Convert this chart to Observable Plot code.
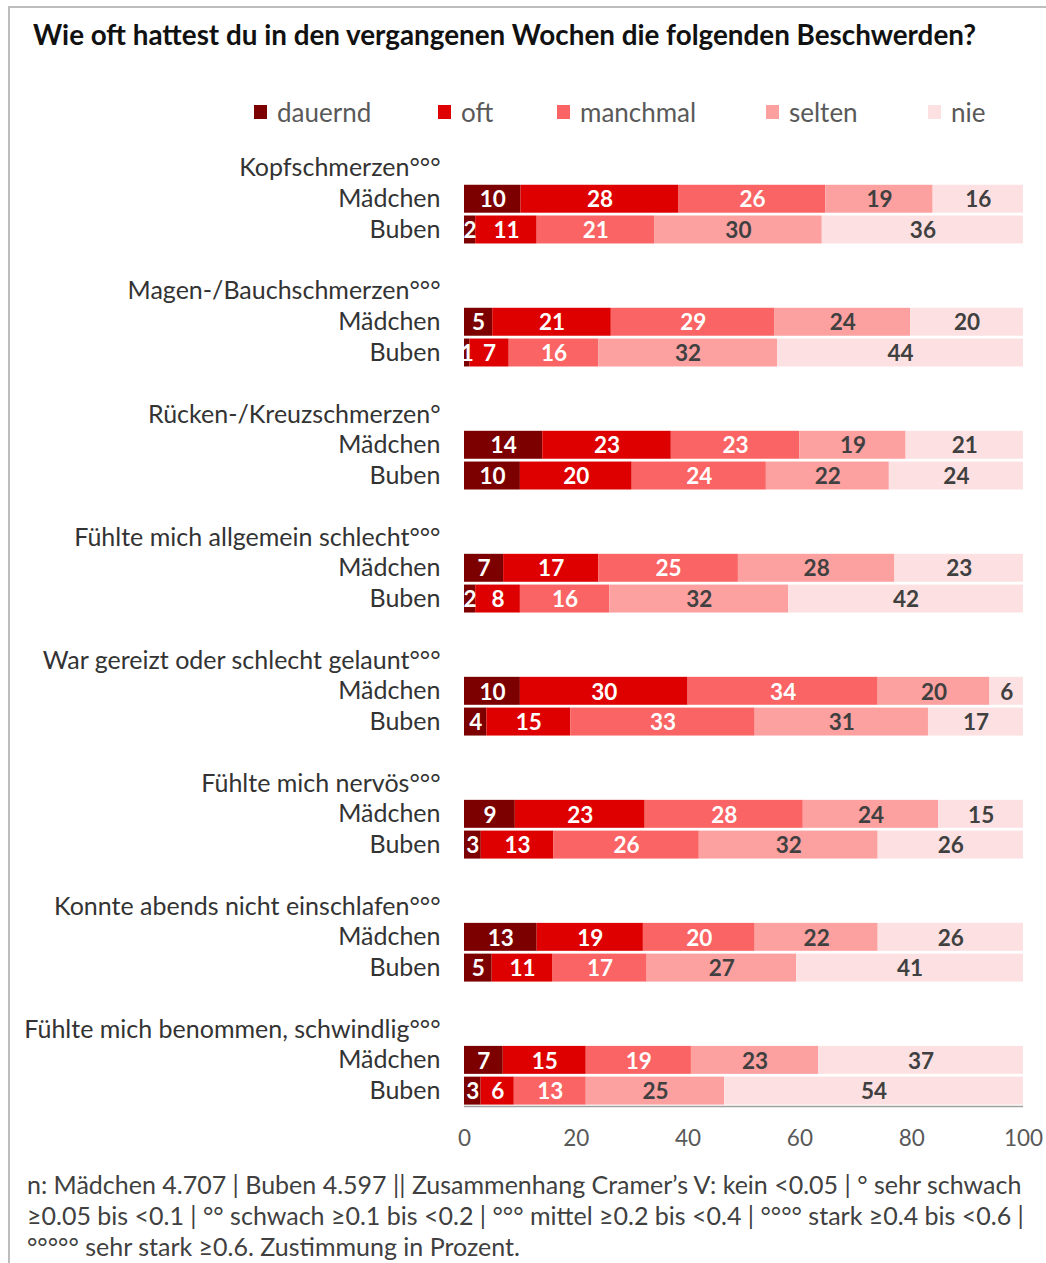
<!DOCTYPE html>
<html><head><meta charset="utf-8">
<script src="https://cdn.jsdelivr.net/npm/d3@7"></script>
<script src="https://cdn.jsdelivr.net/npm/@observablehq/plot@0.6"></script>
<style>
html,body{margin:0;padding:0;background:#fff;}
#wrap{position:relative;width:1046px;height:1263px;overflow:hidden;font-family:Lato,"Open Sans",sans-serif;}
#frame{position:absolute;left:8px;top:6px;right:-10px;bottom:-10px;border-left:2px solid #bdbdbd;border-top:2px solid #bdbdbd;}
#title{position:absolute;left:33px;top:18px;font-weight:bold;font-size:27.8px;color:#111;white-space:nowrap;}
.leg{position:absolute;top:96px;font-size:26px;color:#595959;white-space:nowrap;display:flex;align-items:center;}
.leg i{display:inline-block;width:13px;height:14px;margin-right:10px;}
#chart{position:absolute;left:0;top:140px;}
#foot{position:absolute;left:27px;top:1169px;font-size:25px;color:#404040;line-height:31px;white-space:nowrap;}
</style></head>
<body><div id="wrap"><div id="frame"></div>
<div id="title">Wie oft hattest du in den vergangenen Wochen die folgenden Beschwerden?</div>
<div id="legend"></div>
<div id="chart"></div>
<div id="foot"></div>
</div>
<script>
const items = ["Kopfschmerzen°°°","Magen-/Bauchschmerzen°°°","Rücken-/Kreuzschmerzen°","Fühlte mich allgemein schlecht°°°","War gereizt oder schlecht gelaunt°°°","Fühlte mich nervös°°°","Konnte abends nicht einschlafen°°°","Fühlte mich benommen, schwindlig°°°"];
const groups = ["Mädchen","Buben"];
const levels = ["dauernd","oft","manchmal","selten","nie"];
const colors = ["#7c0000","#de0000","#fb6464","#fca0a0","#fde1e2"];
const legendX = [254,438,557,766,928];
const maedchen = [
  [10,28,26,19,16],
  [5,21,29,24,20],
  [14,23,23,19,21],
  [7,17,25,28,23],
  [10,30,34,20,6],
  [9,23,28,24,15],
  [13,19,20,22,26],
  [7,15,19,23,37]
];
const buben = [
  [2,11,21,30,36],
  [1,7,16,32,44],
  [10,20,24,22,24],
  [2,8,16,32,42],
  [4,15,33,31,17],
  [3,13,26,32,26],
  [5,11,17,27,41],
  [3,6,13,25,54]
];
const xTicks = [0,20,40,60,80,100];
const footLines = [
  "n: Mädchen 4.707 | Buben 4.597 || Zusammenhang Cramer’s V: kein <0.05 | ° sehr schwach",
  "≥0.05 bis <0.1 | °° schwach ≥0.1 bis <0.2 | °°° mittel ≥0.2 bis <0.4 | °°°° stark ≥0.4 bis <0.6 |",
  "°°°°° sehr stark ≥0.6. Zustimmung in Prozent."
];

// rows: label, Mädchen, Buben, gap
const rows = [];
const rowLabel = new Map();
items.forEach((it, i) => {
  rows.push(`L${i}`); rowLabel.set(`L${i}`, it);
  rows.push(`M${i}`); rowLabel.set(`M${i}`, groups[0]);
  rows.push(`B${i}`); rowLabel.set(`B${i}`, groups[1]);
  if (i < items.length - 1) { rows.push(`G${i}`); rowLabel.set(`G${i}`, ""); }
});
const data = [];
items.forEach((it, i) => {
  levels.forEach((lv, j) => {
    data.push({row: `M${i}`, level: lv, li: j, value: maedchen[i][j]});
    data.push({row: `B${i}`, level: lv, li: j, value: buben[i][j]});
  });
});

// legend
const legEl = document.getElementById("legend");
levels.forEach((lv, j) => {
  const d = document.createElement("div");
  d.className = "leg";
  d.style.left = legendX[j] + "px";
  d.innerHTML = `<i style="background:${colors[j]}"></i>${lv}`;
  legEl.appendChild(d);
});
document.getElementById("foot").innerHTML = footLines.map(l => `<div>${l.replace(/</g,"&lt;")}</div>`).join("");

const stackOpts = {y: "row", x: "value", order: levels, offset: "normalize"};
const half = 953.4 / 31 / 2;
const plot = Plot.plot({
  width: 1046,
  height: 1016,
  marginLeft: 464,
  marginRight: 23,
  marginTop: 12.6,
  marginBottom: 50,
  style: {fontFamily: "Lato, 'Open Sans', sans-serif", background: "transparent"},
  x: {domain: [0, 1], label: null},
  y: {domain: rows, padding: 0, round: false, label: null},
  color: {domain: levels, range: colors},
  marks: [
    Plot.ruleX(xTicks.map(t => t / 100), {stroke: "#a0a0a0", strokeWidth: 1.6, y1: rows[0], y2: rows[rows.length-1], insetTop: -half, insetBottom: -half}),
    Plot.barX(data, Plot.stackX({...stackOpts, fill: "level", insetTop: 1.4, insetBottom: 1.4})),
    Plot.ruleY([rows[rows.length-1]], {x1: 0, x2: 1, stroke: "#a0a0a0", strokeWidth: 1.6, dy: half}),
    Plot.text(data, Plot.stackX({...stackOpts, text: "value", fill: d => d.li < 3 ? "#ffffff" : "#404040", fontWeight: "bold", fontSize: 22.5, dy: 1})),
    Plot.axisX({ticks: xTicks.map(t => t / 100), tickFormat: d => Math.round(d * 100), tickSize: 0, tickPadding: 24, fontSize: 22.5, fill: "#595959", stroke: null, label: null}),
    Plot.axisY({tickFormat: d => rowLabel.get(d), tickSize: 0, tickPadding: 24, fontSize: 25, fill: "#333", label: null})
  ]
});
document.getElementById("chart").appendChild(plot);
</script>
</body></html>
